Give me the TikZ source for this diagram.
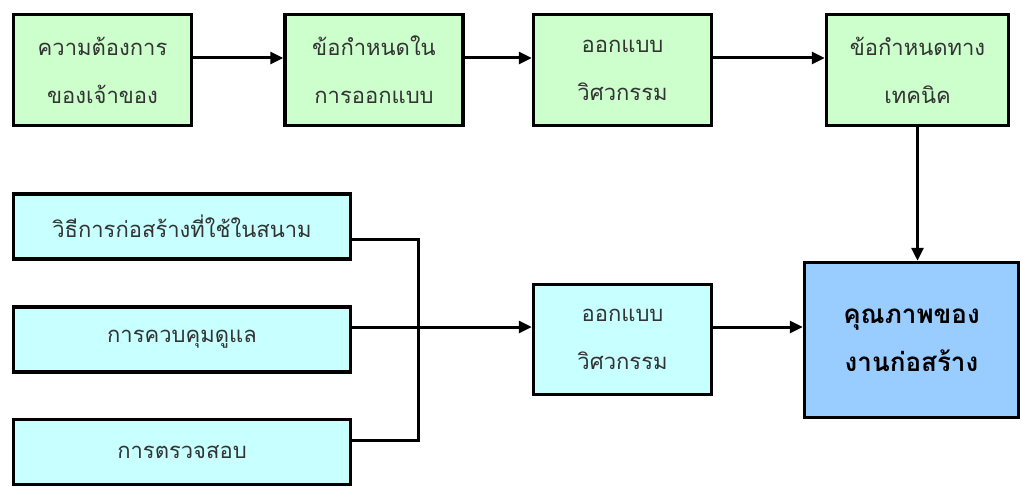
\documentclass[tikz,border=0pt]{standalone}
\usepackage{fontspec}
\newfontfamily\thaifont[Script=Thai]{Loma}
\usetikzlibrary{arrows.meta,positioning}

\definecolor{reqgreen}{HTML}{CCFFCC}
\definecolor{inpcyan}{HTML}{C8FFFF}
\definecolor{qualblue}{HTML}{99CCFF}

\begin{document}
\begin{tikzpicture}[x=1pt,y=-1pt,
  box/.style={draw=black,line width=3.5pt,align=center,inner sep=0pt,
    text=black!80,font=\thaifont\fontsize{22}{48}\selectfont},
  reqbox/.style={box,fill=reqgreen,minimum width=178pt,minimum height=111pt},
  inbox/.style={box,fill=inpcyan,minimum width=337pt,minimum height=65pt},
  link/.style={line width=3pt},
  arrow/.style={link,-{Triangle[length=13pt,width=12pt]}}]
  \useasboundingbox (0,0) rectangle (1023,487);

  % Top row: requirements chain
  \node[reqbox] (own) at (102.5,70) {ความต้องการ\\ของเจ้าของ};
  \node[reqbox] (dreq) at (374,70) {ข้อกำหนดใน\\การออกแบบ};
  \node[reqbox] (eng) at (622.5,70) {ออกแบบ\\วิศวกรรม};
  \node[reqbox,minimum width=182pt] (spec) at (917.5,70) {ข้อกำหนดทาง\\เทคนิค};

  % Left column: site inputs
  \node[inbox] (meth) at (182,226.5) {วิธีการก่อสร้างที่ใช้ในสนาม};
  \node[inbox] (ctl) at (182,339.5) {การควบคุมดูแล};
  \node[inbox] (insp) at (182,452) {การตรวจสอบ};

  % Middle and result
  \node[box,fill=inpcyan,minimum width=178pt,minimum height=110pt] (eng2) at (622.5,339.5) {ออกแบบ\\วิศวกรรม};
  \node[box,fill=qualblue,minimum width=214pt,minimum height=155pt,
    font=\thaifont\bfseries\fontsize{26}{48}\selectfont,text=black] (qual) at (911.5,340) {คุณภาพของ\\งานก่อสร้าง};

  % Top arrows
  \draw[arrow] ([yshift=12pt]own.east) -- ([yshift=12pt]dreq.west);
  \draw[arrow] ([yshift=12pt]dreq.east) -- ([yshift=12pt]eng.west);
  \draw[arrow] ([yshift=12pt]eng.east) -- ([yshift=12pt]spec.west);
  \draw[arrow] (spec.south) -- (spec.south |- qual.north);

  % Inputs merge into design
  \coordinate (jn) at (418,239);
  \draw[link] ([yshift=-12.5pt]meth.east) -- (jn) |- ([yshift=12pt]insp.east);
  \draw[arrow] ([yshift=12.5pt]ctl.east) -- ([yshift=12.5pt]eng2.west);
  \draw[arrow] ([yshift=12.5pt]eng2.east) -- ([yshift=12.5pt]eng2.east -| qual.west);
\end{tikzpicture}
\end{document}
